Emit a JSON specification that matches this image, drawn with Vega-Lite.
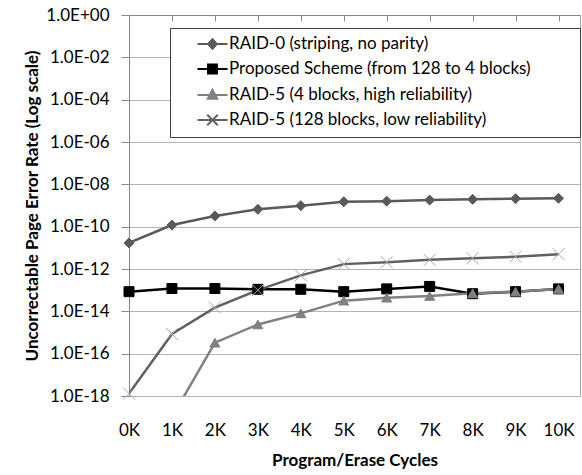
{
  "$schema": "https://vega.github.io/schema/vega-lite/v6.json",
  "width": 451,
  "height": 381,
  "autosize": "none",
  "padding": {"left": 129, "top": 15, "right": 2, "bottom": 79},
  "config": {"view": {"stroke": "#a6a6a6", "strokeWidth": 1}, "font": "Lato"},
  "data": {
    "values": [
      {"k": 0, "series": "RAID-0 (striping, no parity)", "rate": 1.7e-11},
      {"k": 1, "series": "RAID-0 (striping, no parity)", "rate": 1.2e-10},
      {"k": 2, "series": "RAID-0 (striping, no parity)", "rate": 3.2e-10},
      {"k": 3, "series": "RAID-0 (striping, no parity)", "rate": 6.6e-10},
      {"k": 4, "series": "RAID-0 (striping, no parity)", "rate": 9.8e-10},
      {"k": 5, "series": "RAID-0 (striping, no parity)", "rate": 1.5e-9},
      {"k": 6, "series": "RAID-0 (striping, no parity)", "rate": 1.6e-9},
      {"k": 7, "series": "RAID-0 (striping, no parity)", "rate": 1.8e-9},
      {"k": 8, "series": "RAID-0 (striping, no parity)", "rate": 1.95e-9},
      {"k": 9, "series": "RAID-0 (striping, no parity)", "rate": 2.1e-9},
      {"k": 10, "series": "RAID-0 (striping, no parity)", "rate": 2.2e-9},
      {"k": 0, "series": "Proposed Scheme (from 128 to 4 blocks)", "rate": 8.5e-14},
      {"k": 1, "series": "Proposed Scheme (from 128 to 4 blocks)", "rate": 1.2e-13},
      {"k": 2, "series": "Proposed Scheme (from 128 to 4 blocks)", "rate": 1.2e-13},
      {"k": 3, "series": "Proposed Scheme (from 128 to 4 blocks)", "rate": 1.1e-13},
      {"k": 4, "series": "Proposed Scheme (from 128 to 4 blocks)", "rate": 1.1e-13},
      {"k": 5, "series": "Proposed Scheme (from 128 to 4 blocks)", "rate": 8.5e-14},
      {"k": 6, "series": "Proposed Scheme (from 128 to 4 blocks)", "rate": 1.15e-13},
      {"k": 7, "series": "Proposed Scheme (from 128 to 4 blocks)", "rate": 1.5e-13},
      {"k": 8, "series": "Proposed Scheme (from 128 to 4 blocks)", "rate": 6.8e-14},
      {"k": 9, "series": "Proposed Scheme (from 128 to 4 blocks)", "rate": 8.5e-14},
      {"k": 10, "series": "Proposed Scheme (from 128 to 4 blocks)", "rate": 1.15e-13},
      {"k": 0, "series": "RAID-5 (4 blocks, high reliability)", "rate": 1e-22},
      {"k": 1, "series": "RAID-5 (4 blocks, high reliability)", "rate": 1e-19},
      {"k": 2, "series": "RAID-5 (4 blocks, high reliability)", "rate": 3.3e-16},
      {"k": 3, "series": "RAID-5 (4 blocks, high reliability)", "rate": 2.4e-15},
      {"k": 4, "series": "RAID-5 (4 blocks, high reliability)", "rate": 8e-15},
      {"k": 5, "series": "RAID-5 (4 blocks, high reliability)", "rate": 3.2e-14},
      {"k": 6, "series": "RAID-5 (4 blocks, high reliability)", "rate": 4.4e-14},
      {"k": 7, "series": "RAID-5 (4 blocks, high reliability)", "rate": 5.3e-14},
      {"k": 8, "series": "RAID-5 (4 blocks, high reliability)", "rate": 7.1e-14},
      {"k": 9, "series": "RAID-5 (4 blocks, high reliability)", "rate": 8.5e-14},
      {"k": 10, "series": "RAID-5 (4 blocks, high reliability)", "rate": 1.15e-13},
      {"k": 0, "series": "RAID-5 (128 blocks, low reliability)", "rate": 1.3e-18},
      {"k": 1, "series": "RAID-5 (128 blocks, low reliability)", "rate": 8.5e-16},
      {"k": 2, "series": "RAID-5 (128 blocks, low reliability)", "rate": 1.5e-14},
      {"k": 3, "series": "RAID-5 (128 blocks, low reliability)", "rate": 1e-13},
      {"k": 4, "series": "RAID-5 (128 blocks, low reliability)", "rate": 5e-13},
      {"k": 5, "series": "RAID-5 (128 blocks, low reliability)", "rate": 1.7e-12},
      {"k": 6, "series": "RAID-5 (128 blocks, low reliability)", "rate": 2.1e-12},
      {"k": 7, "series": "RAID-5 (128 blocks, low reliability)", "rate": 2.7e-12},
      {"k": 8, "series": "RAID-5 (128 blocks, low reliability)", "rate": 3.2e-12},
      {"k": 9, "series": "RAID-5 (128 blocks, low reliability)", "rate": 3.8e-12},
      {"k": 10, "series": "RAID-5 (128 blocks, low reliability)", "rate": 5e-12}
    ]
  },
  "layer": [
    {
      "mark": {"type": "line", "clip": true, "strokeWidth": 2.5},
      "encoding": {
        "x": {
          "field": "k", "type": "quantitative",
          "scale": {"domain": [0, 10.5], "nice": false, "zero": false},
          "axis": {
            "orient": "bottom", "values": [0,1,2,3,4,5,6,7,8,9,10],
            "labelExpr": "datum.value + 'K'", "domain": false, "ticks": false, "grid": false,
            "labelPadding": 26, "labelFont": "Lato", "labelFontSize": 17, "labelColor": "#000000",
            "labelFlush": false, "labelOverlap": false,
            "title": "Program/Erase Cycles", "titleFont": "Lato", "titleFontSize": 17,
            "titleFontWeight": "bold", "titleColor": "#000000", "titlePadding": 14
          }
        },
        "y": {
          "field": "rate", "type": "quantitative",
          "scale": {"type": "log", "domain": [1e-18, 1], "nice": false},
          "axis": {
            "orient": "left",
            "values": [1, 1e-2, 1e-4, 1e-6, 1e-8, 1e-10, 1e-12, 1e-14, 1e-16, 1e-18],
            "labelExpr": "'1.0E' + (datum.value >= 1 ? '+' : '-') + (abs(round(log(datum.value)/LN10)) < 10 ? '0' : '') + abs(round(log(datum.value)/LN10))",
            "grid": true, "gridColor": "#b4b4b4", "gridWidth": 1,
            "domainColor": "#868686", "tickColor": "#868686", "tickSize": 8,
            "labelPadding": 12, "labelFont": "Lato", "labelFontSize": 17, "labelColor": "#000000",
            "labelFlush": false, "labelOverlap": false,
            "title": "Uncorrectable Page Error Rate (Log scale)", "titleFont": "Lato", "titleFontSize": 17,
            "titleFontWeight": "bold", "titleColor": "#000000", "titlePadding": 4
          }
        },
        "color": {
          "field": "series", "type": "nominal",
          "scale": {
            "domain": ["RAID-0 (striping, no parity)", "Proposed Scheme (from 128 to 4 blocks)", "RAID-5 (4 blocks, high reliability)", "RAID-5 (128 blocks, low reliability)"],
            "range": ["#595959", "#000000", "#808080", "#606060"]
          },
          "legend": null
        }
      }
    },
    {
      "transform": [{"filter": "datum.rate >= 1e-18"}],
      "mark": {"type": "point", "opacity": 1, "strokeWidth": 1, "size": 100},
      "encoding": {
        "x": {
          "field": "k", "type": "quantitative",
          "axis": {
            "orient": "top", "values": [1,2,3,4,5,6,7,8,9,10], "labels": false, "grid": false,
            "ticks": true, "tickSize": -6, "tickColor": "#868686", "domain": true, "domainColor": "#868686",
            "title": null
          }
        },
        "y": {"field": "rate", "type": "quantitative"},
        "shape": {
          "field": "series", "type": "nominal",
          "scale": {
            "domain": ["RAID-0 (striping, no parity)", "Proposed Scheme (from 128 to 4 blocks)", "RAID-5 (4 blocks, high reliability)", "RAID-5 (128 blocks, low reliability)"],
            "range": ["diamond", "square", "triangle-up", "M-1.2,-1.2L1.2,1.2M-1.2,1.2L1.2,-1.2"]
          },
          "legend": null
        },
        "fill": {
          "field": "series", "type": "nominal",
          "scale": {
            "domain": ["RAID-0 (striping, no parity)", "Proposed Scheme (from 128 to 4 blocks)", "RAID-5 (4 blocks, high reliability)", "RAID-5 (128 blocks, low reliability)"],
            "range": ["#595959", "#000000", "#808080", "transparent"]
          },
          "legend": null
        },
        "stroke": {
          "field": "series", "type": "nominal",
          "scale": {
            "domain": ["RAID-0 (striping, no parity)", "Proposed Scheme (from 128 to 4 blocks)", "RAID-5 (4 blocks, high reliability)", "RAID-5 (128 blocks, low reliability)"],
            "range": ["#595959", "#000000", "#808080", "#a6a6a6"]
          },
          "legend": null
        }
      }
    },
    {
      "transform": [{"filter": "false"}],
      "mark": {"type": "point", "opacity": 1, "strokeWidth": 2, "size": 256},
      "encoding": {
        "shape": {
          "field": "series", "type": "nominal",
          "scale": {
            "domain": ["RAID-0 (striping, no parity)", "Proposed Scheme (from 128 to 4 blocks)", "RAID-5 (4 blocks, high reliability)", "RAID-5 (128 blocks, low reliability)"],
            "range": [
              "M1.44,0H5.19M3.31,-0.6L3.85,0L3.31,0.6L2.77,0ZM47.8,0",
              "M1.44,0H5.19M2.75,-0.56H3.87V0.56H2.75Z",
              "M1.44,0H5.19M3.31,-0.66L3.9,0.46H2.72Z",
              "M1.44,0H5.19M2.65,-0.66L3.97,0.66M2.65,0.66L3.97,-0.66"
            ]
          },
          "legend": {
            "orient": "none", "legendX": 41, "legendY": 13, "title": null,
            "padding": 7, "rowPadding": 7, "symbolSize": 256, "symbolStrokeWidth": 2,
            "labelOffset": 34, "labelFont": "Lato", "labelFontSize": 17, "labelColor": "#000000", "labelLimit": 0,
            "strokeColor": "#404040", "fillColor": "#ffffff"
          }
        },
        "fill": {
          "field": "series", "type": "nominal",
          "scale": {
            "domain": ["RAID-0 (striping, no parity)", "Proposed Scheme (from 128 to 4 blocks)", "RAID-5 (4 blocks, high reliability)", "RAID-5 (128 blocks, low reliability)"],
            "range": ["#595959", "#000000", "#808080", "#606060"]
          },
          "legend": {
            "orient": "none", "legendX": 41, "legendY": 13, "title": null,
            "padding": 7, "rowPadding": 7, "symbolSize": 256, "symbolStrokeWidth": 2,
            "labelOffset": 34, "labelFont": "Lato", "labelFontSize": 17, "labelColor": "#000000", "labelLimit": 0,
            "strokeColor": "#404040", "fillColor": "#ffffff"
          }
        },
        "stroke": {
          "field": "series", "type": "nominal",
          "scale": {
            "domain": ["RAID-0 (striping, no parity)", "Proposed Scheme (from 128 to 4 blocks)", "RAID-5 (4 blocks, high reliability)", "RAID-5 (128 blocks, low reliability)"],
            "range": ["#595959", "#000000", "#808080", "#606060"]
          },
          "legend": {
            "orient": "none", "legendX": 41, "legendY": 13, "title": null,
            "padding": 7, "rowPadding": 7, "symbolSize": 256, "symbolStrokeWidth": 2,
            "labelOffset": 34, "labelFont": "Lato", "labelFontSize": 17, "labelColor": "#000000", "labelLimit": 0,
            "strokeColor": "#404040", "fillColor": "#ffffff"
          }
        }
      }
    }
  ],
  "resolve": {
    "scale": {"shape": "independent", "fill": "independent", "stroke": "independent", "color": "independent"},
    "axis": {"x": "independent"}
  }
}
